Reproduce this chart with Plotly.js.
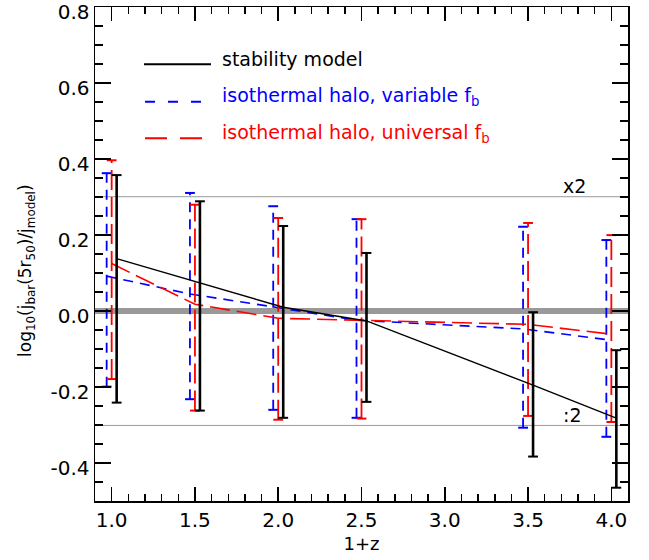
<!DOCTYPE html>
<html><head><meta charset="utf-8">
<script src="https://cdn.plot.ly/plotly-3.0.1.min.js"></script>
<style>html,body{margin:0;padding:0;background:#fff}</style>
</head><body>
<div id="chart" style="width:649px;height:560px"></div>
<script>
// ---- data ----
const onePlusZ = [1.0, 1.5, 2.0, 2.5, 3.5, 4.0];

const modelY  = [0.138, 0.075, 0.010, -0.026, -0.195, -0.282];
const modelHi = [0.358, 0.289, 0.224, 0.153, -0.003, -0.103];
const modelLo = [-0.241, -0.262, -0.281, -0.239, -0.383, -0.465];

const variableY  = [0.092, 0.045, 0.011, -0.024, -0.047, -0.075];
const variableHi = [0.363, 0.311, 0.276, 0.242, 0.222, 0.187];
const variableLo = [-0.199, -0.232, -0.260, -0.281, -0.307, -0.331];

const universalY  = [0.125, 0.018, -0.019, -0.024, -0.035, -0.061];
const universalHi = [0.397, 0.280, 0.245, 0.242, 0.232, 0.200];
const universalLo = [-0.179, -0.262, -0.286, -0.283, -0.276, -0.292];

const factorTwo = Math.log10(2);
const xTickVals = [1.0, 1.5, 2.0, 2.5, 3.0, 3.5, 4.0];
const xTickText = ['1.0', '1.5', '2.0', '2.5', '3.0', '3.5', '4.0'];
const yTickVals = [-0.4, -0.2, 0.0, 0.2, 0.4, 0.6, 0.8];
const yTickText = ['-0.4', '-0.2', '0.0', '0.2', '0.4', '0.6', '0.8'];

const legendNames = ['stability model',
  'isothermal halo, variable f<sub>b</sub>',
  'isothermal halo, universal f<sub>b</sub>'];

// ---- helpers ----
const FONT = 'DejaVu Sans, Liberation Sans, Arial, sans-serif';
function shift(xs, d) { return xs.map(v => v + d); }
function bars(xs, lo, hi) {
  const x = [], y = [];
  xs.forEach((v, i) => { x.push(v, v, null); y.push(lo[i], hi[i], null); });
  return {x, y};
}
function series(xs, ys, lo, hi, color, dash, lw, bw) {
  const b = bars(xs, lo, hi);
  return [
    {x: b.x, y: b.y, mode: 'lines', line: {color, dash, width: bw}, hoverinfo: 'skip', showlegend: false, connectgaps: false},
    {x: xs.concat(xs), y: lo.concat(hi), mode: 'markers', hoverinfo: 'skip', showlegend: false,
     marker: {symbol: 'line-ew', size: 7, color, line: {color, width: 2}}},
    {x: xs, y: ys, mode: 'lines', line: {color, dash, width: lw}, showlegend: false}
  ];
}

const xVar = shift(onePlusZ, -0.03);
const xUni = shift(onePlusZ, 0.0);
const xMod = shift(onePlusZ, 0.03);

const data = []
  .concat(series(xVar, variableY, variableLo, variableHi, '#0000ff', '10px,7px', 1.6, 1.8))
  .concat(series(xUni, universalY, universalLo, universalHi, '#ff0000', '20px,7px', 1.6, 1.8))
  .concat(series(xMod, modelY, modelLo, modelHi, '#000000', 'solid', 1.4, 2.6));

// legend geometry in paper coords
const legendRows = [
  {name: legendNames[0], color: '#000000', dash: 'solid', y: 0.884, x0: 0.0919, x1: 0.2176},
  {name: legendNames[1], color: '#0000ff', dash: '10px,13px', y: 0.8083, x0: 0.0938, x1: 0.2026},
  {name: legendNames[2], color: '#ff0000', dash: '22px,13px', y: 0.7342, x0: 0.0938, x1: 0.2008}
];

const shapes = [
  {type: 'line', xref: 'paper', x0: 0, x1: 1, yref: 'y', y0: 0, y1: 0, layer: 'below', line: {color: '#999999', width: 6}},
  {type: 'line', xref: 'paper', x0: 0, x1: 1, yref: 'y', y0: factorTwo, y1: factorTwo, layer: 'below', line: {color: '#999999', width: 1}},
  {type: 'line', xref: 'paper', x0: 0, x1: 1, yref: 'y', y0: -factorTwo, y1: -factorTwo, layer: 'below', line: {color: '#999999', width: 1}}
];
const annotations = [
  {xref: 'x', yref: 'y', x: 3.7, y: 0.329, xanchor: 'left', yanchor: 'middle', text: 'x2', showarrow: false, font: {family: FONT, size: 19, color: '#000'}},
  {xref: 'x', yref: 'y', x: 3.7, y: -0.273, xanchor: 'left', yanchor: 'middle', text: ':2', showarrow: false, font: {family: FONT, size: 19, color: '#000'}},
  {xref: 'paper', yref: 'paper', x: -0.1295, y: 0.4676, xanchor: 'center', yanchor: 'middle', textangle: -90, showarrow: false,
   text: 'log<sub>10</sub>(j<sub>bar</sub>(5r<sub>50</sub>)/j<sub>model</sub>)', font: {family: FONT, size: 17, color: '#000'}}
];
legendRows.forEach(r => {
  shapes.push({type: 'line', xref: 'paper', yref: 'paper', x0: r.x0, x1: r.x1, y0: r.y, y1: r.y, line: {color: r.color, width: 2, dash: r.dash}});
  annotations.push({xref: 'paper', yref: 'paper', x: 0.2345, y: r.y + 0.01, xanchor: 'left', yanchor: 'middle', text: r.name, showarrow: false,
    font: {family: FONT, size: 19, color: r.color}});
});

const axisCommon = {
  showgrid: false, zeroline: false, showline: true, linecolor: '#000', linewidth: 1.5,
  mirror: 'allticks', ticks: 'inside', tickcolor: '#000', tickwidth: 1.5,
  ticklabeloverflow: 'allow',
  tickfont: {family: FONT, size: 20, color: '#000'}
};

const layout = {
  width: 649, height: 560,
  margin: {l: 95, r: 21, t: 7, b: 59},
  paper_bgcolor: '#fff', plot_bgcolor: '#fff',
  showlegend: false,
  xaxis: Object.assign({}, axisCommon, {
    range: [0.9, 4.1], tickmode: 'array', tickvals: xTickVals, ticktext: xTickText, ticklen: 14,
    minor: {ticks: 'inside', dtick: 0.1, tick0: 0, ticklen: 7, tickwidth: 1.5, tickcolor: '#000', showgrid: false},
    title: {text: '1+z', font: {family: FONT, size: 18, color: '#000'}, standoff: 7}
  }),
  yaxis: Object.assign({}, axisCommon, {
    range: [-0.5, 0.8005], tickmode: 'array', tickvals: yTickVals, ticktext: yTickText, ticklen: 16,
    ticklabelshift: 5,
    minor: {ticks: 'inside', dtick: 0.05, tick0: 0, ticklen: 8, tickwidth: 1.5, tickcolor: '#000', showgrid: false}
  }),
  shapes, annotations
};

Plotly.newPlot('chart', data, layout, {displayModeBar: false, staticPlot: true});
</script></body></html>
